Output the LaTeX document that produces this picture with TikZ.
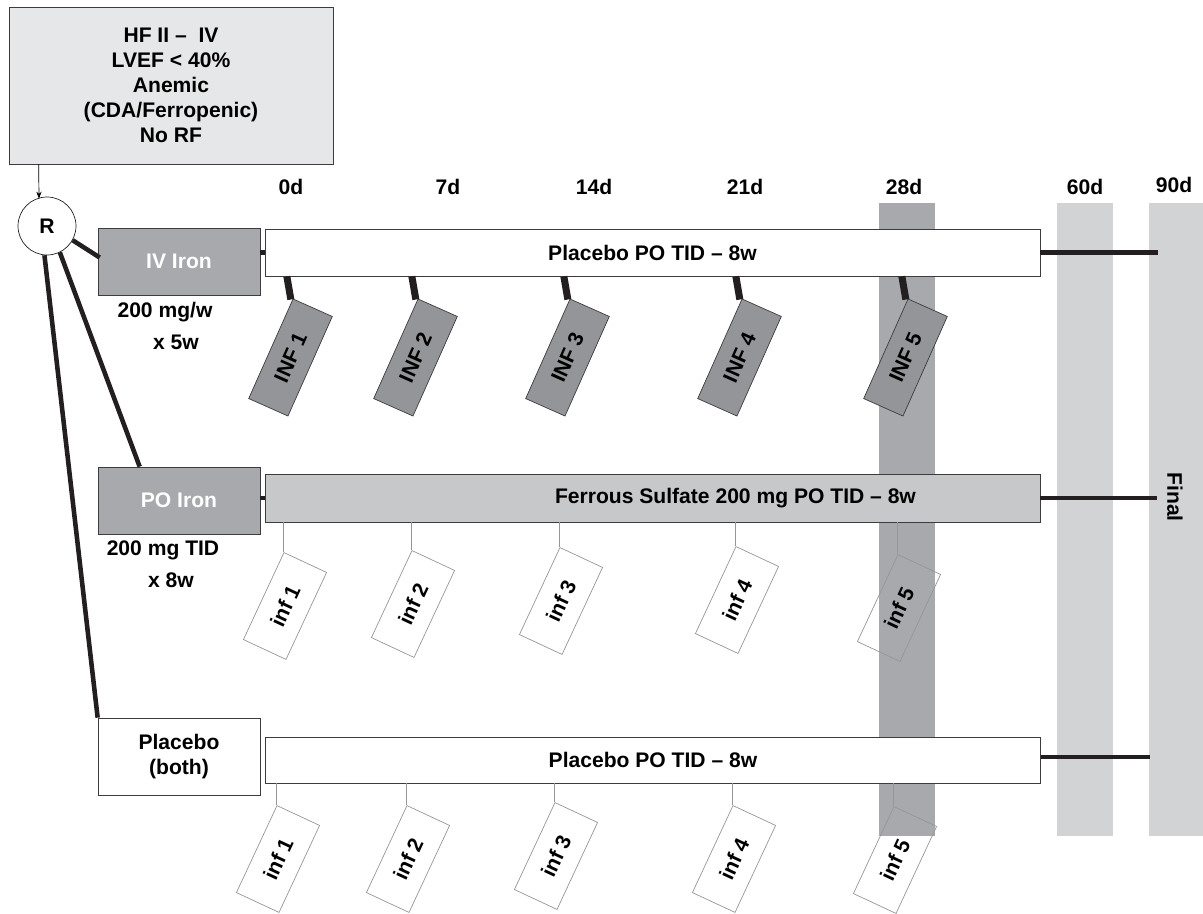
\documentclass[tikz,border=0pt]{standalone}
\usepackage{fontspec}
\setmainfont{Liberation Sans}
\usetikzlibrary{arrows.meta, positioning, calc}
\definecolor{edgegray}{RGB}{60, 60, 62}
\definecolor{critfill}{RGB}{230, 231, 232}
\definecolor{armfill}{RGB}{167, 169, 172}
\definecolor{inffill}{RGB}{147, 149, 152}
\definecolor{ferrfill}{RGB}{199, 200, 202}
\definecolor{banddark}{RGB}{167, 169, 172}
\definecolor{bandlight}{RGB}{209, 211, 212}
\definecolor{linkblack}{RGB}{35, 31, 32}
\definecolor{infline}{RGB}{150, 150, 152}

\begin{document}
\begin{tikzpicture}[
            x=0.02cm, y=-0.02cm,
            font=\fontsize{12}{14.2}\selectfont\bfseries,
            crit/.style={draw=edgegray, fill=critfill, minimum width=6.48cm,
                         minimum height=3.14cm, align=center, inner sep=0pt},
            arm/.style={draw=edgegray, minimum width=3.24cm, minimum height=1.34cm,
                        align=center, inner sep=0pt},
            bar/.style={draw=edgegray, fill=white, minimum width=15.5cm,
                        minimum height=0.94cm, inner sep=0pt},
            infbox/.style={draw=edgegray, fill=inffill, rotate=66, minimum width=2.18cm,
                           minimum height=0.86cm, inner sep=0pt},
            infpo/.style={draw=infline, rotate=65, minimum width=1.92cm,
                          minimum height=0.94cm, inner sep=0pt},
            link/.style={line width=2.6pt, draw=linkblack},
            stemiv/.style={line width=4pt, draw=linkblack},
            stempo/.style={line width=0.7pt, draw=infline},
            day/.style={inner sep=0pt}
          ]
          \useasboundingbox (0,0) rectangle (1203,913);
          % time bands
          \fill[banddark]  (879,203) rectangle (935,836);
          \fill[bandlight] (1057,203) rectangle (1113,836);
          \fill[bandlight] (1149,203) rectangle (1203,836);
          \node[day] (d0)  at (291,187)  {0d};
          \node[day] (d7)  at (448,187)  {7d};
          \node[day] (d14) at (594,187)  {14d};
          \node[day] (d21) at (745,187)  {21d};
          \node[day] (d28) at (904,187)  {28d};
          \node[day] (d60) at (1085,187) {60d};
          \node[day] (d90) at (1174,185) {90d};
          \node[day, rotate=-90] (final) at (1175,497) {Final};

          \node[crit] (crit) at (171,85.5) {HF II -- \ IV\\LVEF < 40\%\\Anemic\\(CDA/Ferropenic)\\No RF};
          \node[draw=linkblack, fill=white, circle, minimum size=1.16cm, inner sep=0pt] (R) at (47,226) {R};
          \draw[-{Stealth[length=4pt, width=3pt]}, thin] ($(crit.south west)+(30,0)$) -- ($(R.north)+(-8,2)$);

          % arms
          \node[arm, fill=armfill, text=white] (ivarm) at (179,261.5) {IV Iron};
          \node[arm, fill=armfill, text=white] (poarm) at (179,500.5) {PO Iron};
          \node[arm, fill=white, minimum height=1.54cm] (plarm) at (179,756.5) {Placebo\\(both)};
          \node (ivdose) at (165,312) {200 mg/w};
          \node (ivdur)  at (176,342) {x 5w};
          \node (podose) at (163,550) {200 mg TID};
          \node (podur)  at (171,580) {x 8w};
          \draw[link] (R.-29) -- ($(ivarm.west)+(2,-4)$);
          \draw[link] (R.-64) -- ($(poarm.north west)+(42,0)$);
          \draw[link] (R.-95) -- (plarm.north west);

          % bars
          \node[bar] (barIV) at (652.5,252.5) {Placebo PO TID -- 8w};
          \node[bar, fill=ferrfill, minimum height=0.96cm,
                label={[xshift=1.66cm]center:Ferrous Sulfate 200 mg PO TID -- 8w}] (barPO) at (652.5,498) {};
          \node[bar, minimum height=0.92cm] (barPL) at (653,760) {Placebo PO TID -- 8w};
          \draw[link] (barIV.west -| ivarm.east) -- (barIV.west);
          \draw[link] (barPO.west -| poarm.east) -- (barPO.west);
          \draw[link] (barIV.east) -- ($(barIV.east)+(118,0)$);
          \draw[link] (barPO.east) -- ($(barPO.east)+(117,0)$);
          \draw[link] ($(barPL.east)+(0,-3)$) -- ($(barPL.east)+(109,-3)$);

          % IV infusions
          \node[infbox] (INF1) at (290.5,357.5) {INF 1};
          \node[infbox] (INF2) at (415.5,357.5) {INF 2};
          \node[infbox] (INF3) at (567.5,357.5) {INF 3};
          \node[infbox] (INF4) at (739.5,357.5) {INF 4};
          \node[infbox] (INF5) at (905.5,357.5) {INF 5};
          \draw[stemiv] ($(INF1.north east |- barIV.south)+(-6,0)$) -- ($(INF1.north east)+(-2,1)$);
          \draw[stemiv] ($(INF2.north east |- barIV.south)+(-6,0)$) -- ($(INF2.north east)+(-2,1)$);
          \draw[stemiv] ($(INF3.north east |- barIV.south)+(-6,0)$) -- ($(INF3.north east)+(-2,1)$);
          \draw[stemiv] ($(INF4.north east |- barIV.south)+(-6,0)$) -- ($(INF4.north east)+(-2,1)$);
          \draw[stemiv] ($(INF5.north east |- barIV.south)+(-6,0)$) -- ($(INF5.north east)+(-2,1)$);

          % PO infusions
          \node[infpo] (poinf1) at (285,606) {inf 1};
          \node[infpo] (poinf2) at (413,604) {inf 2};
          \node[infpo] (poinf3) at (561,601) {inf 3};
          \node[infpo] (poinf4) at (737,600) {inf 4};
          \node[infpo] (poinf5) at (899,608) {inf 5};
          \draw[stempo] (poinf1.north east |- barPO.south) -- (poinf1.north east);
          \draw[stempo] (poinf2.north east |- barPO.south) -- (poinf2.north east);
          \draw[stempo] (poinf3.north east |- barPO.south) -- (poinf3.north east);
          \draw[stempo] (poinf4.north east |- barPO.south) -- (poinf4.north east);
          \draw[stempo] (poinf5.north east |- barPO.south) -- (poinf5.north east);

          % placebo infusions
          \node[infpo] (plinf1) at (278,859) {inf 1};
          \node[infpo] (plinf2) at (408,859) {inf 2};
          \node[infpo] (plinf3) at (556,856) {inf 3};
          \node[infpo] (plinf4) at (734,859) {inf 4};
          \node[infpo] (plinf5) at (895,860) {inf 5};
          \draw[stempo] (plinf1.north east |- barPL.south) -- (plinf1.north east);
          \draw[stempo] (plinf2.north east |- barPL.south) -- (plinf2.north east);
          \draw[stempo] (plinf3.north east |- barPL.south) -- (plinf3.north east);
          \draw[stempo] (plinf4.north east |- barPL.south) -- (plinf4.north east);
          \draw[stempo] (plinf5.north east |- barPL.south) -- (plinf5.north east);
        \end{tikzpicture}
\end{document}
